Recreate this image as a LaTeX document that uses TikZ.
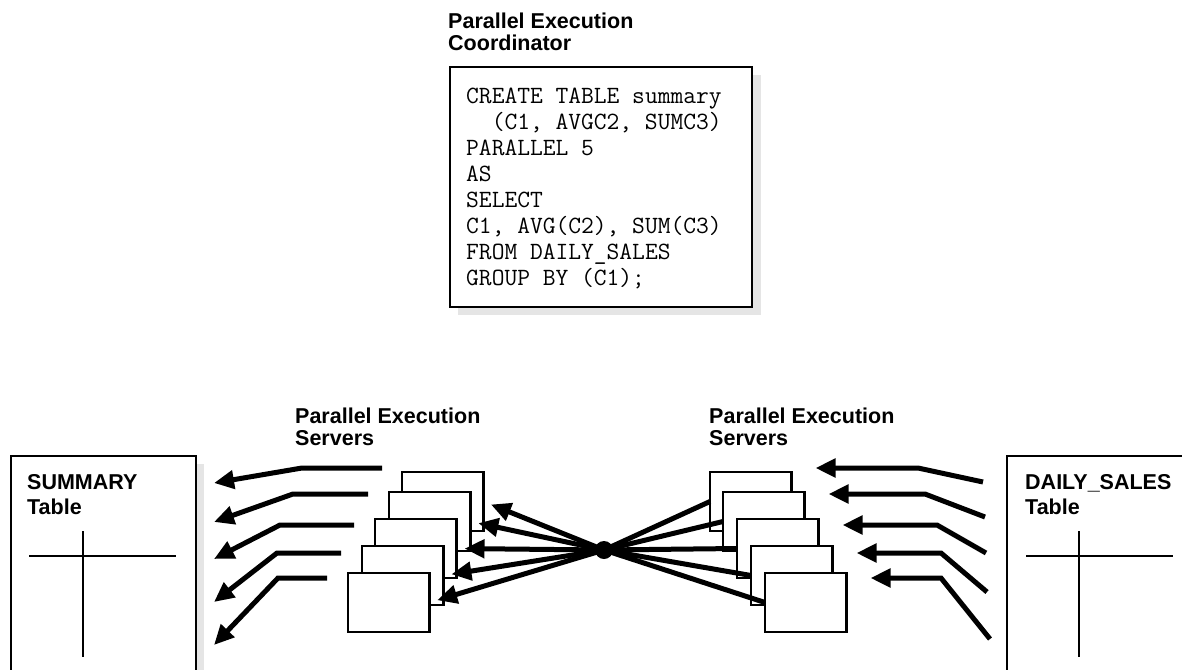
\documentclass[tikz,border=0pt]{standalone}
\usepackage{fontspec}
\setmainfont{Liberation Sans}
\usetikzlibrary{arrows.meta,calc}
\tikzset{
	tblbox/.style={draw, line width=2.5pt, fill=white, inner sep=0pt, outer sep=0pt},
	srv/.style={tblbox, anchor=north west, minimum width=81.5pt, minimum height=59pt},
	lbl/.style={anchor=north west, inner sep=0pt, align=left, font=\bfseries\fontsize{21.5}{22}\selectfont},
	tbllbl/.style={lbl, font=\bfseries\fontsize{21.5}{25}\selectfont},
	flow/.style={line width=5pt, -{Triangle[length=20pt,width=18pt]}},
	shadowfill/.style={fill=black!10},
}
\begin{document}
\begin{tikzpicture}[x=1pt, y=-1pt]
		\useasboundingbox (0,0) rectangle (1182,669);
		\clip (0,0) rectangle (1182,669);
		% coordinator and its statement
		\node[lbl] (coordlbl) at (448,13) {Parallel Execution\\Coordinator};
		\fill[shadowfill] (458,75) rectangle (761,315);
		\node[tblbox, anchor=north west, minimum width=302pt, minimum height=240pt] (sql) at (450,67) {};
		\node[anchor=north west, inner sep=0pt, align=left, font=\ttfamily\fontsize{24.8}{26}\selectfont] (sqltext) at (466,88) {CREATE TABLE summary\\\phantom{CC}(C1, AVGC2, SUMC3)\\PARALLEL 5\\AS\\SELECT\\C1, AVG(C2), SUM(C3)\\FROM DAILY\_SALES\\GROUP BY (C1);};
		% tables
		\fill[shadowfill] (19,464) rectangle (204,700);
		\node[tblbox, anchor=north west, minimum width=185pt, minimum height=250pt] (sumtab) at (11,456) {};
		\node[tbllbl] (sumlbl) at (27,474) {SUMMARY\\Table};
		\draw[line width=2.5pt] (29,556) -- (176,556) (83,531) -- (83,657);
		\node[tblbox, anchor=north west, minimum width=200pt, minimum height=250pt] (daytab) at (1007,456) {};
		\node[tbllbl] (daylbl) at (1025,474) {DAILY\_SALES\\Table};
		\draw[line width=2.5pt] (1026,556) -- (1173,556) (1079,531) -- (1079,657);
		% servers
		\node[lbl] (lsrvlbl) at (295,408) {Parallel Execution\\Servers};
		\node[lbl] (rsrvlbl) at (709,408) {Parallel Execution\\Servers};
		\node[srv] (lA) at (402,472) {};
		\node[srv] (lB) at (389,492) {};
		\node[srv] (lC) at (375,519) {};
		\node[srv] (lD) at (362,546) {};
		\node[srv] (lE) at (348,573) {};
		\node[srv] (rA) at (710,472) {};
		\node[srv] (rB) at (723,492) {};
		\node[srv] (rC) at (737,519) {};
		\node[srv] (rD) at (751,546) {};
		\node[srv] (rE) at (765,573) {};
		% redistribution
		\coordinate (hub) at (604,550);
		\draw[line width=5pt] (hub) -- (rA.west);
		\draw[line width=5pt] (hub) -- (rB.west);
		\draw[line width=5pt] (hub) -- (rC.west);
		\draw[line width=5pt] (hub) -- (rD.west);
		\draw[line width=5pt] (hub) -- (rE.west);
		\draw[flow, shorten >=8pt] (hub) -- (lA.east);
		\draw[flow, shorten >=8pt] (hub) -- (lB.east);
		\draw[flow, shorten >=8pt] (hub) -- (lC.east);
		\draw[flow, shorten >=8pt] (hub) -- (lD.east);
		\draw[flow, shorten >=8pt] (hub) -- (lE.east);
		\fill (hub) circle (9);
		% reading DAILY_SALES
		\draw[flow] ($(daytab.north west)+(-24,26)$) -- ++(-65,-14) -- ($(rA.north east)+(24,-4)$);
		\draw[flow] ($(daytab.north west)+(-22,61)$) -- ++(-60,-23) -- ($(rB.north east)+(24,2)$);
		\draw[flow] ($(daytab.north west)+(-21,97)$) -- ++(-49,-28) -- ($(rC.north east)+(24,6)$);
		\draw[flow] ($(daytab.north west)+(-20,136)$) -- ++(-46,-39) -- ($(rD.north east)+(24,7)$);
		\draw[flow] ($(daytab.north west)+(-17,183)$) -- ++(-49,-61) -- ($(rE.north east)+(24,5)$);
		% writing SUMMARY
		\draw[flow] ($(lA.north west)+(-20,-4)$) -- ++(-80,0) -- ($(sumtab.north east)+(18,27)$);
		\draw[flow] ($(lB.north west)+(-21,2)$) -- ++(-75,0) -- ($(sumtab.north east)+(18,66)$);
		\draw[flow] ($(lC.north west)+(-21,6)$) -- ++(-74,0) -- ($(sumtab.north east)+(18,103)$);
		\draw[flow] ($(lD.north west)+(-21,7)$) -- ++(-64,0) -- ($(sumtab.north east)+(18,146)$);
		\draw[flow] ($(lE.north west)+(-21,5)$) -- ++(-49,0) -- ($(sumtab.north east)+(18,189)$);
	\end{tikzpicture}
\end{document}
